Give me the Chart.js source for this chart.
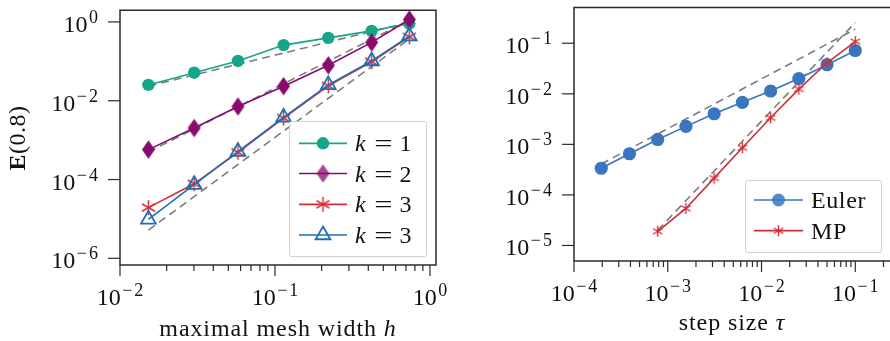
<!DOCTYPE html>
<html><head><meta charset="utf-8">
<script src="https://cdn.jsdelivr.net/npm/chart.js@4.4.1/dist/chart.umd.min.js"></script>
<style>
html,body{margin:0;padding:0;background:#fff;overflow:hidden;width:890px;height:341px;position:relative}
#c1{position:absolute;left:0;top:0}
#c2{position:absolute;left:450px;top:0}
</style></head><body>
<canvas id="c1" width="450" height="341"></canvas>
<canvas id="c2" width="450" height="341"></canvas>
<script>
// ---------- data (left panel) ----------
const hValues   = [0.01525, 0.0301, 0.0577, 0.1137, 0.2209, 0.4205, 0.736];
const errK1     = [0.0252, 0.0515, 0.102, 0.258, 0.394, 0.593, 0.91];
const errK2     = [5.75e-4, 2.03e-3, 7.14e-3, 0.0234, 0.0793, 0.302, 1.15];
const errK3a    = [1.94e-5, 7.8e-5, 4.92e-4, 3.64e-3, 0.0238, 0.0977, 0.418];
const errK3b    = [9.8e-6, 7.4e-5, 5.1e-4, 3.77e-3, 0.0252, 0.102, 0.435];
const refH      = [0.01525, 0.736];
const refOrd1   = [0.0234, 0.98];
const refOrd2   = [5.0e-4, 1.1];
const refOrd3   = [5.2e-6, 0.37];
const leftLabels = ['k = 1', 'k = 2', 'k = 3', 'k = 3'];
const leftXExps = [-2, -1, 0];
const leftYExps = [0, -2, -4, -6];

// ---------- data (right panel) ----------
const tauEuler  = [1.953125e-4, 3.90625e-4, 7.8125e-4, 1.5625e-3, 3.125e-3, 6.25e-3, 0.0125, 0.025, 0.05, 0.1];
const errEuler  = [3.37e-4, 6.52e-4, 1.25e-3, 2.27e-3, 4.03e-3, 6.79e-3, 0.01136, 0.0200, 0.0376, 0.0719];
const tauMP     = [7.8125e-4, 1.5625e-3, 3.125e-3, 6.25e-3, 0.0125, 0.025, 0.05, 0.1];
const errMP     = [1.91e-5, 5.4e-5, 2.15e-4, 8.55e-4, 3.36e-3, 0.0124, 0.0411, 0.108];
const refTau1   = [1.953125e-4, 0.1];
const refEuler  = [4.1e-4, 0.19];
const refTau2   = [7.8125e-4, 0.1];
const refMP     = [2.0e-5, 0.257];
const rightLabels = ['Euler', 'MP'];
const rightXExps = [-4, -3, -2, -1];
const rightYExps = [-1, -2, -3, -4, -5];

// ---------- styles ----------
const C_K1 = '#17a589', C_K2 = '#8a0b6f', C_K3R = '#d32f37', C_K3B = '#1f6fb6';
const C_EU = '#3a76c0', C_MP = '#cc2f39', C_REF = '#7c7c7c';
const SERIF = '"Liberation Serif", "DejaVu Serif", serif';
const TXT = '#111111';

function asteriskImg(color, r, lw) {
  const s = Math.ceil(2 * r + lw + 2);
  const c = document.createElement('canvas'); c.width = s; c.height = s;
  const g = c.getContext('2d'); g.strokeStyle = color; g.lineWidth = lw;
  const cx = s / 2, cy = s / 2;
  for (let k = 0; k < 3; k++) {
    const a = Math.PI / 2 + k * Math.PI / 3;
    g.beginPath(); g.moveTo(cx - r * Math.cos(a), cy - r * Math.sin(a));
    g.lineTo(cx + r * Math.cos(a), cy + r * Math.sin(a)); g.stroke();
  }
  return c;
}
function diamondImg(color, hw, hh) {
  const w = Math.ceil(2 * hw + 2), h = Math.ceil(2 * hh + 2);
  const c = document.createElement('canvas'); c.width = w; c.height = h;
  const g = c.getContext('2d'); g.fillStyle = color;
  const cx = w / 2, cy = h / 2;
  g.beginPath(); g.moveTo(cx, cy - hh); g.lineTo(cx + hw, cy); g.lineTo(cx, cy + hh); g.lineTo(cx - hw, cy); g.closePath(); g.fill();
  return c;
}
const imgDiamond = diamondImg(C_K2, 6.5, 9.2);
const imgDiamondLeg = diamondImg('rgba(138,11,111,0.75)', 6.5, 9.2);
const imgStarL = asteriskImg(C_K3R, 7.5, 1.5);
const imgStarR = asteriskImg(C_MP, 5.5, 1.4);

function pts(xs, ys) { return xs.map((x, i) => ({ x: x, y: ys[i] })); }

function drawMarker(ctx, m, x, y) {
  ctx.save();
  if (m.type === 'circle') {
    ctx.fillStyle = m.fill; ctx.beginPath(); ctx.arc(x, y, m.r, 0, Math.PI * 2); ctx.fill();
  } else if (m.type === 'triangle') {
    ctx.strokeStyle = m.stroke; ctx.lineWidth = m.lw; ctx.beginPath();
    for (let k = 0; k < 3; k++) {
      const a = -Math.PI / 2 + k * 2 * Math.PI / 3;
      const px = x + m.r * Math.cos(a), py = y + m.r * Math.sin(a);
      if (k === 0) ctx.moveTo(px, py); else ctx.lineTo(px, py);
    }
    ctx.closePath(); ctx.stroke();
  } else if (m.type === 'img') {
    ctx.drawImage(m.img, x - m.img.width / 2, y - m.img.height / 2);
  }
  ctx.restore();
}

function drawPow(ctx, e, x, baseY, align) {
  const base = '10';
  const F = 24, Fs = 18, gap = 1.5, raise = 9;
  ctx.font = F + 'px ' + SERIF; const wb = ctx.measureText(base).width;
  ctx.font = Fs + 'px ' + SERIF;
  const minus = e < 0 ? '\u2212' : '', digits = String(Math.abs(e));
  const wm = minus ? ctx.measureText(minus).width + 2 : 0;
  const wd = ctx.measureText(digits).width;
  const total = wb + gap + wm + wd;
  const x0 = align === 'right' ? x - total : x - total / 2;
  ctx.textAlign = 'left'; ctx.textBaseline = 'alphabetic'; ctx.fillStyle = TXT;
  ctx.font = F + 'px ' + SERIF; ctx.fillText(base, x0, baseY);
  ctx.font = Fs + 'px ' + SERIF;
  if (minus) ctx.fillText(minus, x0 + wb + gap, baseY - raise);
  ctx.fillText(digits, x0 + wb + gap + wm, baseY - raise);
}

function setFont(ctx, p, size) { ctx.font = (p.b ? 'bold ' : '') + (p.i ? 'italic ' : '') + size + 'px ' + SERIF; }
function drawRich(ctx, parts, x, y, size, ls) {
  let cx = x;
  ctx.textAlign = 'left'; ctx.textBaseline = 'alphabetic'; ctx.fillStyle = TXT;
  ctx.letterSpacing = (ls || 0) + 'px';
  for (const p of parts) { setFont(ctx, p, size); ctx.fillText(p.t, cx, y); cx += ctx.measureText(p.t).width; }
  ctx.letterSpacing = '0px';
  return cx - x;
}
function richWidth(ctx, parts, size, ls) {
  let w = 0; ctx.letterSpacing = (ls || 0) + 'px';
  for (const p of parts) { setFont(ctx, p, size); w += ctx.measureText(p.t).width; }
  ctx.letterSpacing = '0px';
  return w;
}
function drawLegendLabel(ctx, lbl, x, y) {
  ctx.textAlign = 'left'; ctx.textBaseline = 'alphabetic'; ctx.fillStyle = TXT;
  if (lbl.startsWith('k')) {
    const parts = lbl.split(' '); // ['k','=','1']
    ctx.font = 'italic 24px ' + SERIF; ctx.fillText(parts[0], x, y);
    ctx.font = '24px ' + SERIF;
    const we = ctx.measureText('=').width;
    ctx.save(); ctx.translate(x + 19 + 9.3, y); ctx.scale(1.35, 1); ctx.fillText('=', -we / 2, 0); ctx.restore();
    ctx.fillText(parts[2], x + 44.5, y);
  } else {
    ctx.font = '24px ' + SERIF; ctx.letterSpacing = '0.6px'; ctx.fillText(lbl, x, y); ctx.letterSpacing = '0px';
  }
}

const decoPlugin = {
  id: 'deco',
  afterDraw(chart) {
    const o = chart.options.plugins.deco;
    const ctx = chart.ctx, ca = chart.chartArea, xs = chart.scales.x, ys = chart.scales.y;
    ctx.save();
    ctx.strokeStyle = '#2b2b2b'; ctx.lineWidth = 1.5;
    ctx.beginPath();
    if (o.box) {
      ctx.rect(ca.left, ca.top, ca.right - ca.left, ca.bottom - ca.top);
    } else {
      ctx.moveTo(chart.width, ca.top); ctx.lineTo(ca.left, ca.top); ctx.lineTo(ca.left, ca.bottom); ctx.lineTo(chart.width, ca.bottom);
    }
    ctx.stroke();
    ctx.lineWidth = 1.2;
    const xmin = xs.min, xmax = xs.max;
    for (let e = Math.floor(Math.log10(xmin)); e <= Math.ceil(Math.log10(xmax)); e++) {
      for (let m = 1; m <= 9; m++) {
        const v = m * Math.pow(10, e);
        if (v < xmin * 0.999 || v > xmax * 1.001) continue;
        const px = xs.getPixelForValue(v);
        ctx.beginPath(); ctx.moveTo(px, ca.bottom); ctx.lineTo(px, ca.bottom + (m === 1 ? 11 : 6)); ctx.stroke();
      }
    }
    for (const e of o.yExps) {
      const py = ys.getPixelForValue(Math.pow(10, e));
      ctx.beginPath(); ctx.moveTo(ca.left, py); ctx.lineTo(ca.left - 12, py); ctx.stroke();
    }
    for (const e of o.xExps) drawPow(ctx, e, xs.getPixelForValue(Math.pow(10, e)), ca.bottom + 40, 'center');
    for (const e of o.yExps) drawPow(ctx, e, ca.left - 22, ys.getPixelForValue(Math.pow(10, e)) + 10, 'right');
    const tw = richWidth(ctx, o.xTitle, 24, o.xTitleLS);
    drawRich(ctx, o.xTitle, o.xTitleX - tw / 2, o.xTitleY, 24, o.xTitleLS);
    if (o.yTitle) {
      ctx.save(); ctx.translate(o.yTitleX, o.yTitleY); ctx.rotate(-Math.PI / 2);
      const yw = richWidth(ctx, o.yTitle, 24, 0.5);
      drawRich(ctx, o.yTitle, -yw / 2, 7, 24, 0.5);
      ctx.restore();
    }
    const L = o.legend;
    ctx.fillStyle = 'rgba(255,255,255,0.85)'; ctx.strokeStyle = '#d0d0d0'; ctx.lineWidth = 1;
    ctx.beginPath(); ctx.roundRect(L.x + 0.5, L.y + 0.5, L.w, L.h, 2); ctx.fill(); ctx.stroke();
    L.items.forEach((it, i) => {
      const ry = L.rows[i];
      ctx.strokeStyle = it.color; ctx.lineWidth = 1.7;
      ctx.beginPath(); ctx.moveTo(L.lx0, ry); ctx.lineTo(L.lx1, ry); ctx.stroke();
      drawMarker(ctx, it.marker, (L.lx0 + L.lx1) / 2, ry);
      drawLegendLabel(ctx, it.label, L.tx, ry + 8);
    });
    ctx.restore();
  }
};

function baseOptions(pad, xr, yr, deco) {
  return {
    responsive: false, animation: false, devicePixelRatio: 1,
    layout: { padding: pad },
    plugins: { legend: { display: false }, tooltip: { enabled: false }, deco: deco },
    elements: { line: { tension: 0 } },
    scales: {
      x: { type: 'logarithmic', min: xr[0], max: xr[1], display: false },
      y: { type: 'logarithmic', min: yr[0], max: yr[1], display: false }
    }
  };
}

function refSet(xs, ys) {
  return { data: pts(xs, ys), borderColor: C_REF, borderWidth: 1.6, borderDash: [8, 5], pointRadius: 0, order: 10 };
}

// ---------- left chart ----------
const mK1 = { type: 'circle', fill: C_K1, r: 6.2 };
const mK2 = { type: 'img', img: imgDiamondLeg };
const mK3R = { type: 'img', img: imgStarL };
const mK3B = { type: 'triangle', stroke: C_K3B, r: 8.5, lw: 1.8 };
new Chart(document.getElementById('c1'), {
  type: 'line',
  data: {
    datasets: [
      { label: leftLabels[0], data: pts(hValues, errK1), borderColor: C_K1, backgroundColor: C_K1, borderWidth: 1.6, pointStyle: 'circle', pointRadius: 6.2, pointBorderWidth: 0, order: 4 },
      { label: leftLabels[1], data: pts(hValues, errK2), borderColor: C_K2, backgroundColor: C_K2, borderWidth: 1.6, pointStyle: imgDiamond, pointRadius: 8, order: 3 },
      { label: leftLabels[2], data: pts(hValues, errK3a), borderColor: C_K3R, backgroundColor: C_K3R, borderWidth: 1.6, pointStyle: imgStarL, pointRadius: 8, order: 2 },
      { label: leftLabels[3], data: pts(hValues, errK3b), borderColor: C_K3B, backgroundColor: 'rgba(0,0,0,0)', borderWidth: 1.6, pointStyle: 'triangle', pointRadius: 8.5, pointBorderWidth: 1.8, order: 1 },
      refSet(refH, refOrd1), refSet(refH, refOrd2), refSet(refH, refOrd3)
    ]
  },
  options: baseOptions({ left: 120, top: 9, right: 14, bottom: 76 },
    [0.01, Math.pow(10, 0.039)], [Math.pow(10, -6.169), Math.pow(10, 0.295)],
    { box: true, xExps: leftXExps, yExps: leftYExps,
      xTitle: [{ t: 'maximal mesh width ' }, { t: 'h', i: true }], xTitleX: 278, xTitleY: 336, xTitleLS: 0.9,
      yTitle: [{ t: 'E', b: true }, { t: '(0.8)' }], yTitleX: 18, yTitleY: 138,
      legend: { x: 289, y: 121, w: 137, h: 135, lx0: 299, lx1: 347, tx: 355, rows: [143.3, 173.5, 204.3, 235],
        items: [
          { label: leftLabels[0], color: C_K1, marker: mK1 },
          { label: leftLabels[1], color: C_K2, marker: mK2 },
          { label: leftLabels[2], color: C_K3R, marker: mK3R },
          { label: leftLabels[3], color: C_K3B, marker: mK3B }
        ] } }),
  plugins: [decoPlugin]
});

// ---------- right chart ----------
const mEU = { type: 'circle', fill: 'rgba(58,118,192,0.85)', r: 6.5 };
const mMP = { type: 'img', img: imgStarR };
new Chart(document.getElementById('c2'), {
  type: 'line',
  data: {
    datasets: [
      { label: rightLabels[0], data: pts(tauEuler, errEuler), borderColor: C_EU, backgroundColor: C_EU, borderWidth: 1.6, pointStyle: 'circle', pointRadius: 6.6, pointBorderWidth: 0, order: 2 },
      { label: rightLabels[1], data: pts(tauMP, errMP), borderColor: C_MP, backgroundColor: C_MP, borderWidth: 1.6, pointStyle: imgStarR, pointRadius: 6, order: 1 },
      refSet(refTau1, refEuler), refSet(refTau2, refMP)
    ]
  },
  options: baseOptions({ left: 124, top: 5, right: 0, bottom: 80 },
    [1e-4, Math.pow(10, -0.604)], [Math.pow(10, -5.307), Math.pow(10, -0.295)],
    { box: false, xExps: rightXExps, yExps: rightYExps,
      xTitle: [{ t: 'step size ' }, { t: '\u03C4', i: true }], xTitleX: 282, xTitleY: 330, xTitleLS: 0.9,
      yTitle: null,
      legend: { x: 295, y: 180, w: 136, h: 72, lx0: 304, lx1: 353, tx: 361, rows: [200, 230.7],
        items: [
          { label: rightLabels[0], color: C_EU, marker: mEU },
          { label: rightLabels[1], color: C_MP, marker: mMP }
        ] } }),
  plugins: [decoPlugin]
});
</script>
</body></html>
